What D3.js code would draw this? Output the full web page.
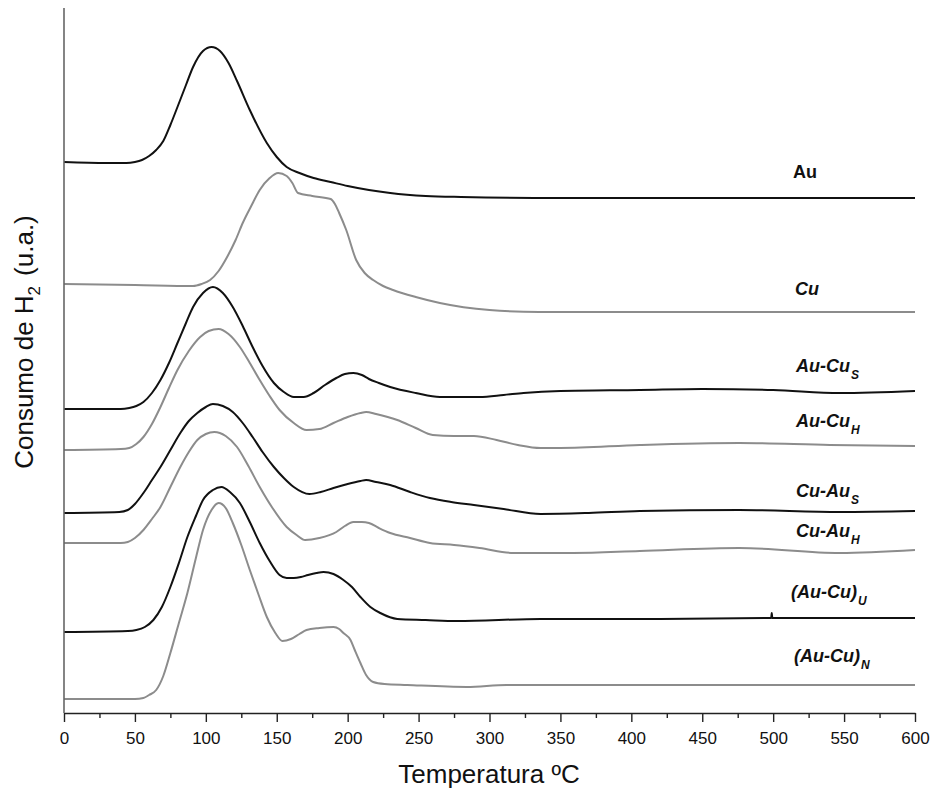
<!DOCTYPE html>
<html>
<head>
<meta charset="utf-8">
<script src="https://cdn.jsdelivr.net/npm/d3@7"></script>
<style>
  html, body { margin: 0; padding: 0; background: #fff; }
  svg { display: block; font-family: "Liberation Sans", Arial, sans-serif; }
</style>
</head>
<body>
<svg id="chart" width="931" height="790"></svg>
<script>
// ---- data (heights in arbitrary units, stacked traces) ----
const seriesNames = ["Au", "Cu", "Au-Cu", "Au-Cu", "Cu-Au", "Cu-Au", "(Au-Cu)", "(Au-Cu)"];
const seriesSubs  = ["", "", "S", "H", "S", "H", "U", "N"];
const seriesItalic = [false, true, true, true, true, true, true, true];
const seriesColors = ["#111111", "#8c8c8c", "#111111", "#8c8c8c", "#111111", "#8c8c8c", "#111111", "#8c8c8c"];

const tAu    = [0, 30, 44, 50, 55, 60, 65, 70, 75, 80, 86, 91, 98, 104, 110, 116, 122, 131, 143, 150, 157, 166, 176, 188, 200, 215, 230, 255, 280, 350, 450, 600];
const vAu    = [551, 550, 550, 551, 553, 557, 563, 572, 588, 606, 628, 646, 662, 666, 662, 650, 632, 603, 570, 556, 546, 540, 535, 531, 527, 523, 520, 517, 516, 515, 515, 515];

const tCu    = [0, 50, 91, 97, 103, 109, 115, 121, 126, 132, 138, 145, 151, 157, 161, 165, 175, 188, 191, 194, 199, 206, 212, 218, 225, 232, 248, 265, 300, 335, 450, 600];
const vCu    = [429, 428, 427, 429, 433, 442, 456, 473, 490, 507, 523, 535, 540, 537, 530, 520, 517, 514, 509, 500, 483, 453, 440, 433, 427, 423, 416, 410, 403, 401, 401, 401];

const tAuCuS = [0, 40, 46, 51, 56, 62, 68, 74, 80, 86, 91, 98, 105, 112, 119, 126, 133, 140, 148, 155, 162, 169, 176, 184, 192, 198, 204, 210, 215, 222, 230, 248, 265, 293, 310, 324, 350, 406, 450, 500, 547, 600];
const vAuCuS = [304, 304, 305, 307, 311, 320, 333, 350, 370, 390, 406, 420, 426, 420, 406, 387, 366, 347, 330, 321, 316, 316, 320, 328, 335, 339, 340, 338, 334, 330, 326, 320, 316, 316, 318, 320, 322, 323, 324, 323, 320, 322];

const tAuCuH = [0, 40, 46, 51, 56, 62, 68, 74, 80, 88, 96, 102, 109, 116, 124, 131, 138, 145, 152, 162, 171, 180, 190, 200, 209, 213, 220, 235, 248, 260, 275, 289, 305, 320, 336, 350, 406, 476, 540, 600];
const vAuCuH = [263, 264, 265, 269, 276, 289, 306, 325, 343, 362, 376, 382, 384, 379, 366, 350, 333, 317, 303, 290, 283, 284, 290, 296, 300, 301, 299, 293, 285, 278, 277, 277, 273, 268, 265, 265, 268, 270, 268, 267];

const tCuAuS = [0, 39, 45, 50, 56, 62, 68, 75, 82, 88, 94, 100, 105, 112, 119, 126, 133, 140, 148, 155, 162, 173, 181, 190, 200, 209, 213, 220, 230, 244, 258, 273, 289, 310, 336, 370, 406, 476, 547, 600];
const vCuAuS = [200, 201, 203, 209, 220, 233, 246, 263, 280, 292, 300, 306, 309, 307, 301, 290, 276, 261, 246, 235, 226, 219, 221, 225, 229, 232, 233, 231, 228, 221, 215, 211, 208, 204, 199, 200, 202, 203, 201, 202];

const tCuAuH = [0, 40, 45, 50, 56, 62, 68, 75, 82, 88, 94, 100, 106, 114, 122, 130, 138, 147, 157, 164, 170, 180, 192, 198, 204, 210, 215, 222, 230, 244, 258, 275, 293, 317, 359, 406, 476, 547, 600];
const vCuAuH = [170, 170, 171, 175, 183, 194, 206, 226, 246, 261, 273, 279, 281, 277, 266, 247, 226, 205, 186, 178, 173, 175, 181, 187, 191, 191, 190, 185, 180, 175, 170, 168, 165, 160, 160, 162, 165, 160, 163];

const tAuCuU = [0, 45, 51, 57, 63, 69, 75, 81, 87, 93, 98, 105, 111, 117, 124, 131, 138, 145, 152, 157, 162, 167, 172, 178, 183, 190, 197, 203, 209, 216, 223, 235, 255, 277, 336, 406, 498.6, 499, 499.4, 600];
const vAuCuU = [81, 82, 83, 86, 93, 106, 126, 150, 176, 197, 213, 223, 226, 221, 210, 191, 170, 152, 138, 135, 135, 136, 138, 140, 141, 139, 133, 126, 116, 106, 100, 94, 93, 92, 94, 94, 95, 100, 95, 95];

const tAuCuN = [0, 50, 56, 60, 65, 70, 75, 81, 87, 93, 98, 104, 109, 114, 119, 125, 131, 137, 143, 149, 154, 160, 166, 171, 180, 190, 194, 197, 202, 205, 209, 213, 218, 226, 242, 284, 312, 406, 600];
const vAuCuN = [14, 14, 15, 18, 23, 37, 60, 90, 120, 155, 183, 203, 210, 205, 190, 168, 143, 119, 96, 80, 72, 74, 79, 83, 85, 86, 84, 80, 73, 63, 50, 38, 31, 29, 28, 26, 28, 28, 28];

const seriesT = [tAu, tCu, tAuCuS, tAuCuH, tCuAuS, tCuAuH, tAuCuU, tAuCuN];
const seriesV = [vAu, vCu, vAuCuS, vAuCuH, vCuAuS, vCuAuH, vAuCuU, vAuCuN];

const xTicksMajor = [0, 50, 100, 150, 200, 250, 300, 350, 400, 450, 500, 550, 600];
const xTitle = "Temperatura ºC";

// ---- layout ----
const svg = d3.select("#chart");
const x = d3.scaleLinear().domain([0, 600]).range([64, 915]);
const y = d3.scaleLinear().domain([0, 705]).range([713, 8]);
const labelX = [793, 795, 796, 796, 796, 796, 791, 794];
const labelLift = [20, 17, 19, 19, 14, 13, 20, 23];

// lines
const line = d3.line().x(d => x(d[0])).y(d => y(d[1])).curve(d3.curveMonotoneX);
seriesT.forEach((ts, i) => {
  const pts = ts.map((t, j) => [t, seriesV[i][j]]);
  svg.append("path")
    .attr("d", line(pts))
    .attr("fill", "none")
    .attr("stroke", seriesColors[i])
    .attr("stroke-width", 2)
    .attr("stroke-linejoin", "round");
});

// x axis
const xAxis = d3.axisBottom(x)
  .tickValues(d3.range(0, 601, 25))
  .tickSize(0)
  .tickFormat("");
const gx = svg.append("g").attr("transform", "translate(0,713)").call(xAxis);
gx.select(".domain").attr("stroke", "#222").attr("stroke-width", 1.6);
gx.selectAll(".tick line")
  .attr("stroke", "#222")
  .attr("stroke-width", 1.4)
  .attr("y2", d => (d % 50 === 0 ? 9 : 5));
gx.selectAll(".tick").filter(d => xTicksMajor.includes(d))
  .select("text")
  .text(d => d)
  .attr("y", 0)
  .attr("dy", 0)
  .attr("transform", "translate(0,31)")
  .attr("fill", "#111")
  .style("font-size", "17px")
  .style("font-family", "'Liberation Sans', Arial, sans-serif");

// y axis line
svg.append("line")
  .attr("x1", 64).attr("x2", 64)
  .attr("y1", y(705)).attr("y2", 713)
  .attr("stroke", "#666").attr("stroke-width", 1.6);

// titles
svg.append("text")
  .attr("x", 489).attr("y", 783)
  .attr("text-anchor", "middle")
  .attr("fill", "#111")
  .style("font-size", "26px")
  .text(xTitle);

const yt = svg.append("text")
  .attr("transform", "translate(33,342) rotate(-90)")
  .attr("text-anchor", "middle")
  .attr("fill", "#111")
  .style("font-size", "26px");
yt.append("tspan").text("Consumo de H");
yt.append("tspan").attr("dy", 7).style("font-size", "17px").text("2");
yt.append("tspan").attr("dy", -7).attr("dx", 10).text("(u.a.)");

// series labels
seriesNames.forEach((name, i) => {
  const last = seriesV[i][seriesV[i].length - 1];
  const t = svg.append("text")
    .attr("x", labelX[i])
    .attr("y", y(last) - labelLift[i])
    .attr("fill", "#111")
    .style("font-size", "18px")
    .style("font-weight", "bold")
    .style("font-style", seriesItalic[i] ? "italic" : "normal");
  t.append("tspan").text(name);
  if (seriesSubs[i]) {
    t.append("tspan").attr("dy", 7).attr("dx", 1).style("font-size", "12px").text(seriesSubs[i]);
  }
});
</script>
</body>
</html>
